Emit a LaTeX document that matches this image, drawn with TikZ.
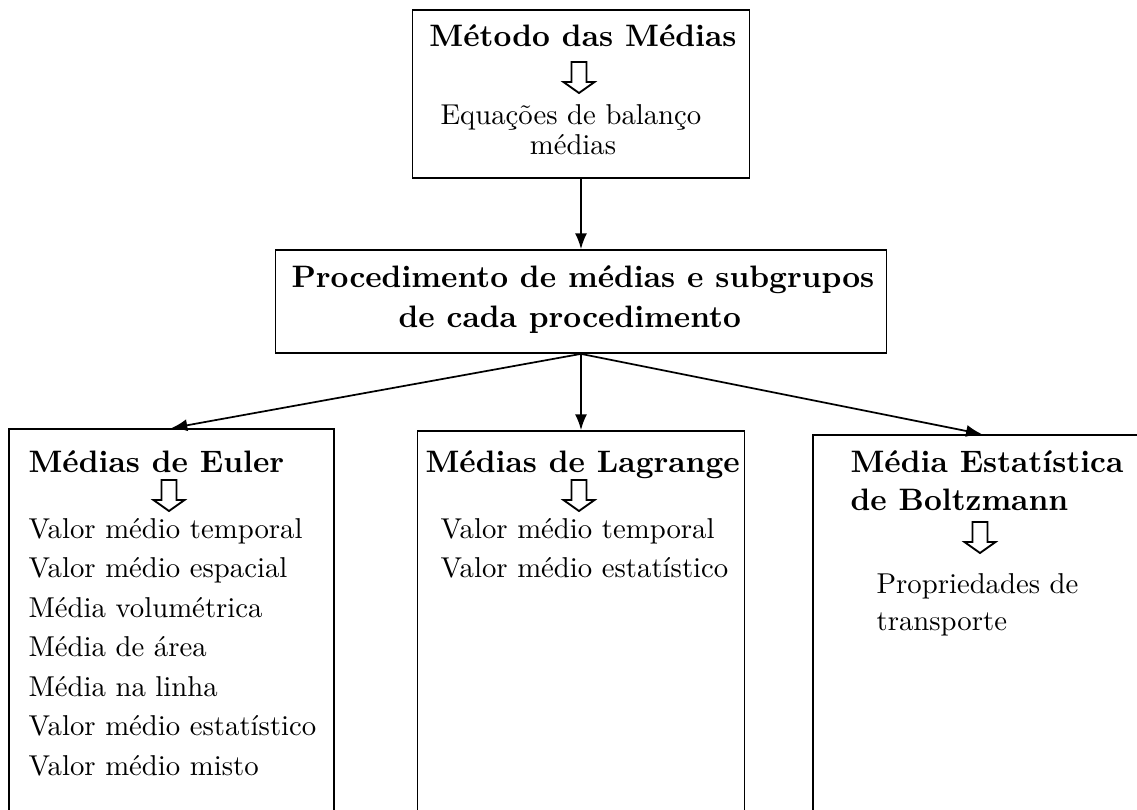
\documentclass[tikz,border=0pt]{standalone}
\usetikzlibrary{arrows.meta}
\newcommand\hollowdown[1]{\draw[hollow] (#1) ++(-7.5,0) -- ++(0,20) -- ++(-8,0) -- ++(15.5,11) -- ++(15.5,-11) -- ++(-8,0) -- ++(0,-20) -- cycle;}
\begin{document}
\begin{tikzpicture}[x=0.348pt,y=-0.348pt,
  box/.style={draw, line width=0.65pt, rectangle, inner sep=0pt},
  conn/.style={line width=0.6pt, -{Latex[length=5.5pt,width=4.2pt]}},
  ttl/.style={font=\fontsize{10.8}{13.5}\selectfont\bfseries, inner sep=0pt},
  txt/.style={font=\fontsize{10}{13.75}\selectfont, inner sep=0pt},
  hollow/.style={draw, line width=0.65pt, fill=white, line join=miter}]
\clip (0,0) rectangle (1137,809);
\fill[white] (0,0) rectangle (1137,809);
% boxes
\node[box, minimum width=117.3pt, minimum height=58.5pt] (top) at (581,94) {};
\node[box, minimum width=212.6pt, minimum height=35.8pt] (mid) at (581,301.5) {};
\node[box, minimum width=113.1pt, minimum height=163.9pt] (euler) at (171.5,664.5) {};
\node[box, minimum width=113.8pt, minimum height=163.2pt] (lagr) at (581,665.5) {};
\node[box, minimum width=120.8pt, minimum height=161.8pt] (boltz) at (986.5,667.5) {};
% connectors
\draw[conn] (top.south) -- (mid.north);
\draw[conn] (mid.south) -- (euler.north);
\draw[conn] (mid.south) -- (lagr.north);
\draw[conn] (mid.south) -- ([xshift=-1.6pt]boltz.north);
% top box text
\node[ttl, anchor=base] (t1) at (583,46) {Método das Médias};
\hollowdown{579,62}
\node[txt, anchor=base west] (t2) at (440,124) {Equações de balanço};
\node[txt, anchor=base] (t3) at (573,154) {médias};
% middle box text
\node[ttl, anchor=base west] (m1) at (291,287) {Procedimento de médias e subgrupos};
\node[ttl, anchor=base west] (m2) at (398,327) {de cada procedimento};
% Euler
\node[ttl, anchor=base west] (eu0) at (28,472) {Médias de Euler};
\hollowdown{169,480}
\foreach \t [count=\i from 1] in {Valor médio temporal, Valor médio espacial, Média volumétrica, Média de área, Média na linha, Valor médio estatístico, Valor médio misto}
  \node[txt, anchor=base west] (eu\i) at (28,498.5+39.5*\i) {\t};
% Lagrange
\node[ttl, anchor=base west] (la0) at (425,472) {Médias de Lagrange};
\hollowdown{579,480}
\node[txt, anchor=base west] (la1) at (440,538) {Valor médio temporal};
\node[txt, anchor=base west] (la2) at (440,577) {Valor médio estatístico};
% Boltzmann
\node[ttl, anchor=base west] (bo0) at (850,472) {Média Estatística};
\node[ttl, anchor=base west] (bo1) at (850,510) {de Boltzmann};
\hollowdown{980,522}
\node[txt, anchor=base west] (bo2) at (876,593) {Propriedades de};
\node[txt, anchor=base west] (bo3) at (876,630) {transporte};
\end{tikzpicture}
\end{document}
